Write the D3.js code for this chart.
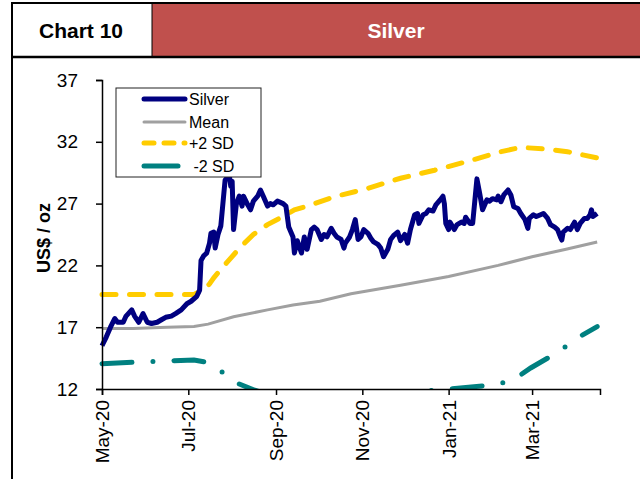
<!DOCTYPE html>
<html lang="en">
<head>
<meta charset="utf-8">
<title>Chart 10 - Silver</title>
<script src="https://cdn.jsdelivr.net/npm/d3@7"></script>
<style>
  body { margin: 0; background: #fff; }
  text { font-family: "Liberation Sans", Arial, sans-serif; }
</style>
</head>
<body>
<div id="chart"></div>
<script>
// silver price, US$/oz
const silver = [
  ["2020-05-01",15.5],["2020-05-04",16.2],["2020-05-07",17.0],["2020-05-10",17.7],["2020-05-12",17.4],
  ["2020-05-16",17.4],["2020-05-18",17.9],["2020-05-22",18.4],["2020-05-24",17.9],["2020-05-27",17.4],
  ["2020-05-30",18.1],["2020-06-02",17.4],["2020-06-05",17.3],["2020-06-09",17.4],["2020-06-12",17.6],
  ["2020-06-15",17.8],["2020-06-19",17.9],["2020-06-22",18.1],["2020-06-26",18.4],["2020-06-30",18.9],
  ["2020-07-03",19.1],["2020-07-07",19.5],["2020-07-09",20.0],["2020-07-10",22.4],["2020-07-12",22.8],
  ["2020-07-14",23.0],["2020-07-16",23.8],["2020-07-17",24.6],["2020-07-19",24.7],["2020-07-20",23.4],
  ["2020-07-22",24.5],["2020-07-24",25.2],["2020-07-27",28.9],["2020-07-30",29.3],["2020-07-31",28.4],
  ["2020-08-01",28.8],["2020-08-02",24.9],["2020-08-04",27.0],["2020-08-06",27.6],["2020-08-08",26.8],
  ["2020-08-09",27.6],["2020-08-12",26.9],["2020-08-14",26.5],["2020-08-16",27.2],["2020-08-19",27.6],
  ["2020-08-21",28.1],["2020-08-23",27.6],["2020-08-26",26.8],["2020-08-28",27.0],["2020-08-30",26.9],
  ["2020-09-02",27.2],["2020-09-06",27.0],["2020-09-08",26.8],["2020-09-10",25.1],["2020-09-13",24.3],
  ["2020-09-14",23.0],["2020-09-16",24.0],["2020-09-19",23.0],["2020-09-21",24.3],["2020-09-23",23.3],
  ["2020-09-26",24.9],["2020-09-28",25.1],["2020-09-30",24.9],["2020-10-03",24.1],["2020-10-05",24.5],
  ["2020-10-07",24.3],["2020-10-10",25.0],["2020-10-12",24.6],["2020-10-14",24.3],["2020-10-17",24.1],
  ["2020-10-19",23.4],["2020-10-20",23.8],["2020-10-23",24.3],["2020-10-25",24.9],["2020-10-27",25.7],
  ["2020-10-29",24.1],["2020-10-31",24.3],["2020-11-02",24.9],["2020-11-05",24.6],["2020-11-07",24.2],
  ["2020-11-09",23.9],["2020-11-12",23.7],["2020-11-14",23.4],["2020-11-16",22.7],["2020-11-19",23.3],
  ["2020-11-21",24.1],["2020-11-23",24.4],["2020-11-26",24.7],["2020-11-28",24.0],["2020-12-01",24.5],
  ["2020-12-03",23.8],["2020-12-05",24.9],["2020-12-08",26.1],["2020-12-10",26.2],["2020-12-11",25.4],
  ["2020-12-14",26.1],["2020-12-16",26.2],["2020-12-18",26.5],["2020-12-21",26.4],["2020-12-23",26.9],
  ["2020-12-26",27.3],["2020-12-28",27.6],["2020-12-29",27.0],["2020-12-30",25.4],["2021-01-01",24.9],
  ["2021-01-02",25.5],["2021-01-05",24.9],["2021-01-07",25.3],["2021-01-10",25.5],["2021-01-12",25.4],
  ["2021-01-13",25.9],["2021-01-16",25.4],["2021-01-18",25.4],["2021-01-20",27.8],["2021-01-21",29.0],
  ["2021-01-23",27.8],["2021-01-25",26.5],["2021-01-28",27.3],["2021-01-30",27.2],["2021-02-01",27.4],
  ["2021-02-04",27.3],["2021-02-05",27.6],["2021-02-07",27.15],["2021-02-09",27.7],["2021-02-12",28.1],
  ["2021-02-14",27.7],["2021-02-16",26.75],["2021-02-19",26.6],["2021-02-21",26.2],["2021-02-24",25.7],
  ["2021-02-26",25.0],["2021-02-27",25.8],["2021-03-02",26.1],["2021-03-04",25.95],["2021-03-07",26.1],
  ["2021-03-09",26.2],["2021-03-12",25.8],["2021-03-14",25.3],["2021-03-17",25.1],["2021-03-19",24.9],
  ["2021-03-21",24.3],["2021-03-22",24.05],["2021-03-23",24.7],["2021-03-26",25.0],["2021-03-28",24.9],
  ["2021-03-31",25.5],["2021-04-02",24.9],["2021-04-04",25.4],["2021-04-07",25.8],["2021-04-09",25.8],
  ["2021-04-11",26.1],["2021-04-12",26.5],["2021-04-13",25.95],["2021-04-16",26.2]
];

const mean = [
  ["2020-05-01",16.9],["2020-05-23",16.9],["2020-06-16",17.0],["2020-07-05",17.05],["2020-07-15",17.25],
  ["2020-08-02",17.85],["2020-08-26",18.4],["2020-09-13",18.8],["2020-10-02",19.1],["2020-10-24",19.7],
  ["2020-11-28",20.4],["2021-01-01",21.1],["2021-02-05",22.0],["2021-03-01",22.7],["2021-03-25",23.3],
  ["2021-04-16",23.9]
];

const plus2sd = [
  ["2020-05-01",19.65],["2020-07-05",19.65],["2020-07-11",20.0],["2020-07-16",20.5],["2020-07-19",21.0],
  ["2020-07-28",22.2],["2020-08-07",23.5],["2020-08-16",24.5],["2020-08-26",25.3],["2020-09-05",25.9],
  ["2020-09-14",26.5],["2020-09-22",26.75],["2020-10-12",27.55],["2020-11-04",28.2],["2020-11-28",29.05],
  ["2020-12-22",29.7],["2021-01-14",30.4],["2021-02-07",31.2],["2021-02-21",31.55],["2021-03-12",31.4],
  ["2021-03-26",31.2],["2021-04-16",30.7]
];

const minus2sd = [
  ["2020-05-01",14.05],["2020-06-10",14.25],["2020-07-05",14.35],["2020-07-12",14.2],["2020-07-16",13.95],
  ["2020-07-26",13.3],["2020-08-05",12.45],["2020-08-17",11.9],["2020-09-05",11.2],["2020-10-12",11.2],
  ["2020-11-28",11.6],["2020-12-22",11.9],["2021-01-01",12.0],["2021-01-25",12.25],["2021-02-07",12.45],
  ["2021-02-19",13.0],["2021-02-28",13.7],["2021-03-12",14.5],["2021-03-23",15.3],["2021-04-03",16.2],
  ["2021-04-16",17.05]
];

const yTicks = [12, 17, 22, 27, 32, 37];
const xTicks = ["2020-05-01", "2020-07-01", "2020-09-01", "2020-11-01", "2021-01-01", "2021-03-01"];
const legendNames = ["Silver", "Mean", "+2 SD", " -2 SD"];

const parse = d3.timeParse("%Y-%m-%d");

const svg = d3.select("#chart").append("svg")
    .attr("width", 640)
    .attr("height", 479);

// header
svg.append("rect").attr("x", 152).attr("y", 3).attr("width", 488).attr("height", 54).attr("fill", "#c0504d");
svg.append("line").attr("x1", 12).attr("x2", 640).attr("y1", 3).attr("y2", 3).attr("stroke", "#000").attr("stroke-width", 2);
svg.append("line").attr("x1", 12).attr("x2", 640).attr("y1", 57).attr("y2", 57).attr("stroke", "#000").attr("stroke-width", 2.5);
svg.append("line").attr("x1", 12).attr("x2", 12).attr("y1", 2).attr("y2", 479).attr("stroke", "#000").attr("stroke-width", 2);
svg.append("line").attr("x1", 152).attr("x2", 152).attr("y1", 3).attr("y2", 57).attr("stroke", "#000").attr("stroke-width", 1);
svg.append("text").attr("x", 81).attr("y", 38).attr("text-anchor", "middle")
    .style("font-size", "21px").style("font-weight", "bold").text("Chart 10");
svg.append("text").attr("x", 396).attr("y", 38).attr("text-anchor", "middle").attr("fill", "#fff")
    .style("font-size", "21px").style("font-weight", "bold").text("Silver");

// scales
const x = d3.scaleTime()
    .domain([parse("2020-05-01"), parse("2021-04-18")])
    .range([102, 600]);
const y = d3.scaleLinear().domain([12, 37]).range([389, 80]);

svg.append("defs").append("clipPath").attr("id", "plotclip")
  .append("rect").attr("x", 95).attr("y", 60).attr("width", 520).attr("height", 329);

const line = d3.line().x(d => x(parse(d[0]))).y(d => y(d[1]));
const plot = svg.append("g").attr("clip-path", "url(#plotclip)");

plot.append("path").datum(mean).attr("d", line)
    .attr("fill", "none").attr("stroke", "#a0a0a0").attr("stroke-width", 3);
plot.append("path").datum(plus2sd).attr("d", line)
    .attr("fill", "none").attr("stroke", "#ffcc00").attr("stroke-width", 5)
    .attr("stroke-linecap", "round").attr("stroke-dasharray", "14,13.5");
plot.append("path").datum(minus2sd).attr("d", line)
    .attr("fill", "none").attr("stroke", "#008080").attr("stroke-width", 5)
    .attr("stroke-linecap", "round").attr("stroke-dasharray", "30,21,0,21");
plot.append("path").datum(silver).attr("d", line)
    .attr("fill", "none").attr("stroke", "#000080").attr("stroke-width", 5)
    .attr("stroke-linejoin", "round");

// axes
const yAxis = svg.append("g").attr("transform", "translate(102,0)")
    .call(d3.axisLeft(y).tickValues(yTicks).tickSize(6).tickPadding(18));
const xAxis = svg.append("g").attr("transform", "translate(0,389)")
    .call(d3.axisBottom(x).tickValues(xTicks.map(parse)).tickSize(6).tickFormat(d3.timeFormat("%b-%y")));
xAxis.selectAll("text")
    .attr("transform", "rotate(-90)")
    .attr("x", -11).attr("y", 0).attr("dy", "0.35em")
    .style("text-anchor", "end");
[yAxis, xAxis].forEach(a => {
  a.select(".domain").attr("stroke", "#000").attr("stroke-width", 1.5);
  a.selectAll(".tick line").attr("stroke", "#000").attr("stroke-width", 1.5);
  a.selectAll("text").style("font-size", "19px").attr("fill", "#000")
    .style("font-family", "'Liberation Sans', Arial, sans-serif");
});

svg.append("text")
    .attr("transform", "translate(50,238) rotate(-90)")
    .attr("text-anchor", "middle")
    .style("font-size", "18px").style("font-weight", "bold")
    .text("US$ / oz");

// legend
const legend = svg.append("g");
legend.append("rect").attr("x", 116).attr("y", 88).attr("width", 145).attr("height", 89)
    .attr("fill", "#fff").attr("stroke", "#222").attr("stroke-width", 1);
const legendRows = [99, 122, 143, 166];
const legendStyle = [
  {c: "#000080", w: 5, dash: null},
  {c: "#a0a0a0", w: 3, dash: null},
  {c: "#ffcc00", w: 5, dash: "10,10"},
  {c: "#008080", w: 5, dash: null}
];
legendNames.forEach((name, i) => {
  const s = legendStyle[i];
  legend.append("line")
      .attr("x1", 144).attr("x2", i === 3 ? 178 : 185)
      .attr("y1", legendRows[i]).attr("y2", legendRows[i])
      .attr("stroke", s.c).attr("stroke-width", s.w)
      .attr("stroke-linecap", "round")
      .attr("stroke-dasharray", s.dash);
  legend.append("text")
      .attr("x", 189).attr("y", legendRows[i]).attr("dy", "0.35em")
      .style("font-size", "16px").style("white-space", "pre")
      .attr("xml:space", "preserve")
      .text(name);
});
</script>
</body>
</html>
